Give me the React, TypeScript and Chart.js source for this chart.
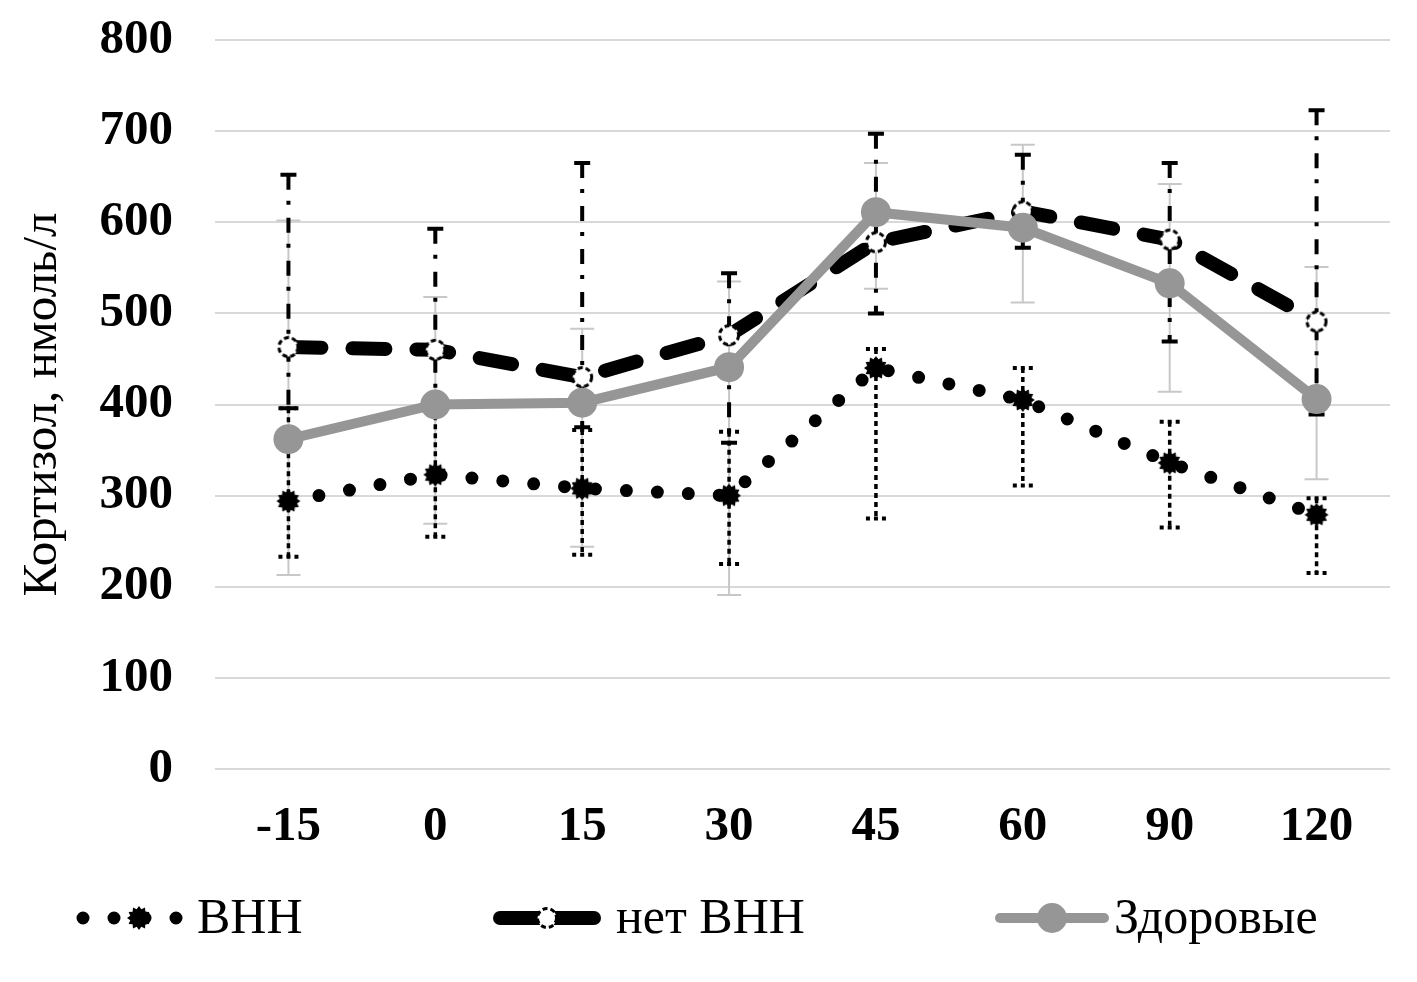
import React, { useEffect, useRef } from 'react';
import { Chart, registerables } from 'chart.js';

Chart.register(...registerables);

const FONT = '"Liberation Serif", "Times New Roman", serif';

const categories = ['-15', '0', '15', '30', '45', '60', '90', '120'];

const vnn = [294, 323, 308, 300, 440, 405, 336, 279];
const vnnHigh = [396, 398, 372, 370, 461, 440, 381, 297];
const vnnLow = [233, 255, 235, 225, 275, 311, 265, 215];

const noVnn = [463, 460, 430, 476, 578, 612, 581, 491];
const noVnnHigh = [652, 593, 665, 544, 697, 674, 665, 723];
const noVnnLow = [396, 405, 375, 358, 500, 572, 469, 389];

const healthy = [362, 400, 402, 441, 611, 594, 533, 406];
const healthyHigh = [602, 518, 483, 535, 665, 685, 642, 551];
const healthyLow = [213, 269, 244, 191, 527, 512, 414, 318];

const seriesNames = ['ВНН', 'нет ВНН', 'Здоровые'];
const yTitle = 'Кортизол, нмоль/л';

const GRAY = '#969696';

function makeStar(): HTMLCanvasElement {
  const s = 30;
  const c = document.createElement('canvas');
  c.width = s;
  c.height = s;
  const ctx = c.getContext('2d')!;
  ctx.translate(s / 2, s / 2);
  ctx.beginPath();
  const n = 12;
  for (let i = 0; i < 2 * n; i++) {
    const r = i % 2 === 0 ? 12 : 9;
    const a = (i * Math.PI) / n - Math.PI / 2;
    const x = r * Math.cos(a);
    const y = r * Math.sin(a);
    if (i === 0) ctx.moveTo(x, y);
    else ctx.lineTo(x, y);
  }
  ctx.closePath();
  ctx.fillStyle = '#000';
  ctx.fill();
  return c;
}

function makeOpen(): HTMLCanvasElement {
  const s = 26;
  const c = document.createElement('canvas');
  c.width = s;
  c.height = s;
  const ctx = c.getContext('2d')!;
  ctx.beginPath();
  ctx.arc(s / 2, s / 2, 9.5, 0, Math.PI * 2);
  ctx.fillStyle = '#fff';
  ctx.fill();
  ctx.setLineDash([5, 3]);
  ctx.lineWidth = 3;
  ctx.strokeStyle = '#000';
  ctx.stroke();
  return c;
}

type BarStyle = { color: string; width: number; dash: number[]; cap: number; capDash: number[]; capWidth: number };

const barStyles: BarStyle[] = [
  { color: '#000', width: 3.5, dash: [5, 4], cap: 20, capDash: [4, 4], capWidth: 4 },
  { color: '#000', width: 4, dash: [15, 11, 4, 13], cap: 16, capDash: [], capWidth: 4 },
  { color: '#c8c8c8', width: 2, dash: [], cap: 24, capDash: [], capWidth: 2 },
];
const barHigh = [vnnHigh, noVnnHigh, healthyHigh];
const barLow = [vnnLow, noVnnLow, healthyLow];

export default function App() {
  const ref = useRef<HTMLCanvasElement>(null);

  useEffect(() => {
    if (!ref.current) return;
    const star = makeStar();
    const open = makeOpen();

    const plugin = {
      id: 'custom',
      beforeDatasetsDraw(chart: any) {
        const ctx = chart.ctx;
        const ys = chart.scales.y;
        const order = [2, 1, 0];
        for (const i of order) {
          const meta = chart.getDatasetMeta(i);
          const st = barStyles[i];
          meta.data.forEach((pt: any, j: number) => {
            const x = pt.x;
            const yh = ys.getPixelForValue(barHigh[i][j]);
            const yl = ys.getPixelForValue(barLow[i][j]);
            ctx.save();
            ctx.strokeStyle = st.color;
            ctx.lineWidth = st.width;
            ctx.setLineDash(st.dash);
            ctx.beginPath();
            ctx.moveTo(x, yh);
            ctx.lineTo(x, yl);
            ctx.stroke();
            ctx.lineWidth = st.capWidth;
            ctx.setLineDash(st.capDash);
            ctx.beginPath();
            ctx.moveTo(x - st.cap / 2, yh);
            ctx.lineTo(x + st.cap / 2, yh);
            ctx.moveTo(x - st.cap / 2, yl);
            ctx.lineTo(x + st.cap / 2, yl);
            ctx.stroke();
            ctx.restore();
          });
        }
      },
      afterDraw(chart: any) {
        const ctx = chart.ctx;
        const ca = chart.chartArea;
        ctx.save();
        // y title
        ctx.translate(43, (ca.top + ca.bottom) / 2);
        ctx.rotate(-Math.PI / 2);
        ctx.font = `49px ${FONT}`;
        ctx.fillStyle = '#000';
        ctx.textAlign = 'center';
        ctx.textBaseline = 'middle';
        ctx.fillText(yTitle, 0, 0);
        ctx.restore();

        // legend
        const ly = 918;
        ctx.save();
        ctx.lineCap = 'round';
        // ВНН
        ctx.strokeStyle = '#000';
        ctx.lineWidth = 13;
        ctx.setLineDash([0, 31]);
        ctx.beginPath();
        ctx.moveTo(83, ly);
        ctx.lineTo(180, ly);
        ctx.stroke();
        ctx.setLineDash([]);
        ctx.drawImage(star, 139 - star.width / 2, ly - star.height / 2);
        // нет ВНН
        ctx.lineWidth = 14;
        ctx.beginPath();
        ctx.moveTo(500, ly);
        ctx.lineTo(594, ly);
        ctx.stroke();
        ctx.drawImage(open, 547 - open.width / 2, ly - open.height / 2);
        // Здоровые
        ctx.strokeStyle = GRAY;
        ctx.lineWidth = 10;
        ctx.beginPath();
        ctx.moveTo(1000, ly);
        ctx.lineTo(1104, ly);
        ctx.stroke();
        ctx.beginPath();
        ctx.arc(1052, ly, 15, 0, Math.PI * 2);
        ctx.fillStyle = GRAY;
        ctx.fill();

        ctx.font = `50px ${FONT}`;
        ctx.fillStyle = '#000';
        ctx.textAlign = 'left';
        ctx.textBaseline = 'middle';
        ctx.fillText(seriesNames[0], 197, ly + 2);
        ctx.fillText(seriesNames[1], 616, ly + 2);
        ctx.fillText(seriesNames[2], 1114, ly + 2);
        ctx.restore();
      },
    };

    const chart = new Chart(ref.current, {
      type: 'line',
      data: {
        labels: categories,
        datasets: [
          {
            label: seriesNames[0],
            data: vnn,
            borderColor: '#000',
            borderWidth: 13,
            borderDash: [0, 31],
            borderCapStyle: 'round',
            pointStyle: star as any,
            pointRadius: 12,
            pointHoverRadius: 12,
            order: 2,
            tension: 0,
          },
          {
            label: seriesNames[1],
            data: noVnn,
            borderColor: '#000',
            borderWidth: 14,
            borderDash: [33, 31],
            borderCapStyle: 'round',
            pointStyle: open as any,
            pointRadius: 10,
            pointHoverRadius: 10,
            order: 1,
            tension: 0,
          },
          {
            label: seriesNames[2],
            data: healthy,
            borderColor: GRAY,
            borderWidth: 10,
            backgroundColor: GRAY,
            pointBackgroundColor: GRAY,
            pointBorderColor: GRAY,
            pointBorderWidth: 0,
            pointRadius: 15,
            pointHoverRadius: 15,
            order: 0,
            tension: 0,
          },
        ],
      },
      options: {
        animation: false,
        responsive: true,
        maintainAspectRatio: false,
        layout: { padding: { left: 0, right: 27, top: 40, bottom: 0 } },
        plugins: {
          legend: { display: false },
          tooltip: { enabled: false },
          title: { display: false },
        },
        scales: {
          x: {
            offset: true,
            grid: { display: false, drawTicks: false },
            border: { display: false },
            ticks: {
              color: '#000',
              font: { family: FONT, size: 49, weight: 'bold' },
              padding: 29,
              maxRotation: 0,
            },
            afterFit(scale: any) {
              scale.height = 213;
            },
          },
          y: {
            min: 0,
            max: 800,
            ticks: {
              stepSize: 100,
              color: '#000',
              font: { family: FONT, size: 49, weight: 'bold' },
              padding: 42,
            },
            grid: { color: '#d9d9d9', lineWidth: 2, drawTicks: false, tickLength: 0 },
            border: { display: false },
            afterFit(scale: any) {
              scale.width = 215;
              scale.paddingTop = 0;
              scale.paddingBottom = 0;
            },
          },
        },
      } as any,
      plugins: [plugin],
    });

    return () => chart.destroy();
  }, []);

  return (
    <div style={{ position: 'absolute', left: 0, top: 0, width: 1417, height: 982, background: '#fff' }}>
      <canvas ref={ref} />
    </div>
  );
}
